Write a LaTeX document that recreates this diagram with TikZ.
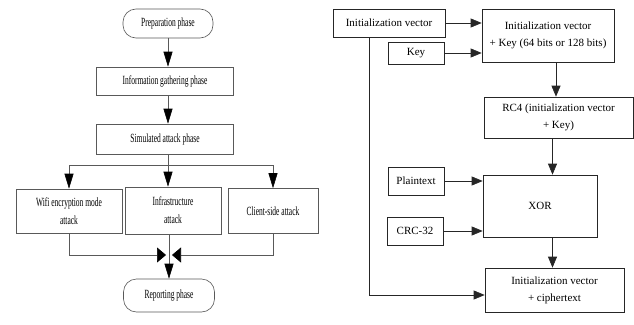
\documentclass[tikz,border=0pt]{standalone}
\usepackage{fontspec}
\setmainfont{Liberation Serif}
\newfontfamily\narrowfont{Liberation Serif}[FakeStretch=0.6]
\usetikzlibrary{arrows.meta}

\begin{document}
\begin{tikzpicture}[x=1pt,y=-1pt,
  phase/.style={draw=black!65, line width=0.6pt, font=\narrowfont\fontsize{12.5}{18}\selectfont, align=center, inner sep=1pt},
  term/.style={phase, rounded corners=13pt},
  wepbox/.style={draw=black!85, line width=0.65pt, font=\fontsize{11}{17}\selectfont, align=center, inner sep=1pt},
  link/.style={draw=black!65, line width=0.6pt},
  varr/.style={link, -{Triangle[length=15pt,width=9pt,color=black]}},
  harr/.style={link, -{Triangle[length=9pt,width=15pt,color=black]}},
  rarr/.style={draw=black!85, line width=0.65pt, -{Triangle[length=11pt,width=9pt]}}]
\useasboundingbox (0,0) rectangle (634,324);
% penetration testing phases
\node[term, minimum width=90pt, minimum height=29pt] (prep) at (168,23.5) {Preparation phase};
\node[phase, minimum width=137pt, minimum height=28pt] (info) at (165,81) {Information gathering phase};
\node[phase, minimum width=137pt, minimum height=30pt] (sim) at (165,139) {Simulated attack phase};
\node[phase, minimum width=106pt, minimum height=44pt] (wifi) at (69,211) {Wifi encryption mode\\attack};
\node[phase, minimum width=96pt, minimum height=47pt] (infra) at (173,210.5) {Infrastructure\\attack};
\node[phase, minimum width=90pt, minimum height=45pt] (client) at (273,211) {Client-side attack};
\node[term, minimum width=91pt, minimum height=33pt] (rep) at (169,295.5) {Reporting phase};
\draw[varr] (prep.south) -- (prep.south |- info.north);
\draw[varr] (prep.south |- info.south) -- (prep.south |- sim.north);
\draw[link] (prep.south |- sim.south) -- ++(0,11) coordinate (fork);
\draw[link] (fork -| wifi.north) -- (fork -| client.north);
\draw[varr] (fork -| wifi.north) -- (wifi.north);
\draw[varr] (fork) -- (fork |- infra.north);
\draw[varr] (fork -| client.north) -- (client.north);
\coordinate (join) at (169,255);
\draw[harr] (wifi.south) |- ([xshift=-3pt]join);
\draw[harr] (client.south) |- ([xshift=3pt]join);
\draw[varr] (infra.south -| rep.north) -- (rep.north);
% WEP encryption
\node[wepbox, minimum width=112pt, minimum height=28pt] (iv) at (389,23) {Initialization vector};
\node[wepbox, minimum width=132pt, minimum height=53pt] (ivkey) at (548,35.5) {Initialization vector\\+ Key (64 bits or 128 bits)};
\node[wepbox, minimum width=56pt, minimum height=22pt] (key) at (416,53) {Key};
\node[wepbox, minimum width=149pt, minimum height=41pt] (rc4) at (558.5,117.5) {RC4 (initialization vector\\+ Key)};
\node[wepbox, minimum width=56pt, minimum height=28pt] (plain) at (416,181) {Plaintext};
\node[wepbox, minimum width=114pt, minimum height=62pt] (xor) at (540,206) {XOR};
\node[wepbox, minimum width=56pt, minimum height=28pt] (crc) at (415,231) {CRC-32};
\node[wepbox, minimum width=139pt, minimum height=44pt] (ivc) at (554.5,290) {Initialization vector\\+ ciphertext};
\draw[rarr] (iv.east) -- (iv.east -| ivkey.west);
\draw[rarr] (key.east) -- (key.east -| ivkey.west);
\draw[rarr] ([xshift=8pt]ivkey.south) -- ([xshift=8pt]ivkey.south |- rc4.north);
\draw[rarr] ([xshift=-6pt]rc4.south) -- ([xshift=-6pt]rc4.south |- xor.north);
\draw[rarr] ([xshift=-2pt]ivc.north |- xor.south) -- ([xshift=-2pt]ivc.north);
\draw[rarr] (plain.east) -- (plain.east -| xor.west);
\draw[rarr] (crc.east) -- (crc.east -| xor.west);
\draw[rarr] ([xshift=-20pt]iv.south) |- ([yshift=-5pt]ivc.west);
\end{tikzpicture}
\end{document}
